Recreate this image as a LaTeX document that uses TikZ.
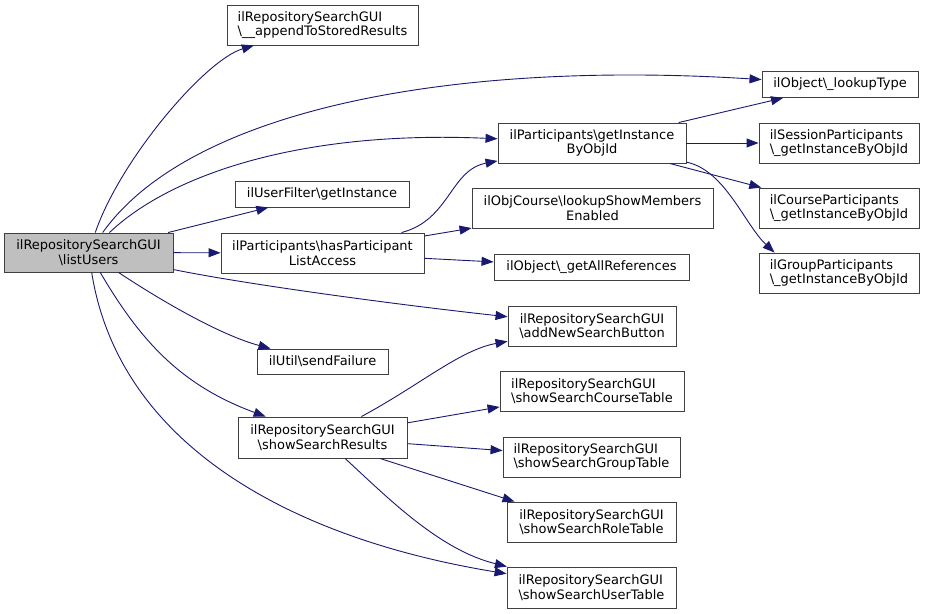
\documentclass[tikz,border=0pt]{standalone}
\usepackage{fontspec}
\setmainfont{DejaVu Sans}
\usetikzlibrary{arrows.meta}
\definecolor{edgec}{HTML}{191970}
\definecolor{boxc}{HTML}{404040}
\definecolor{curc}{HTML}{BFBFBF}
\newcommand{\bs}{\textbackslash{}}
\begin{document}
\begin{tikzpicture}[x=1pt,y=-1pt,
  fn/.style={draw=boxc, line width=0.9pt, fill=white, inner sep=0pt, font=\fontsize{13}{14.5}\selectfont, align=center},
  fnl/.style={fn, align=left},
  e/.style={draw=edgec, line width=0.9pt, -{Triangle[length=12pt,width=9pt]}}]
\useasboundingbox (0,0) rectangle (925,613);

\node[fn, fill=curc, minimum width=169pt, minimum height=39pt] (lu) at (88.5,252.5) {ilRepositorySearchGUI\\\bs listUsers};
\node[fnl, minimum width=191pt, minimum height=40pt] (app) at (322.5,25) {ilRepositorySearchGUI\\\bs\_\_appendToStoredResults};
\node[fn, minimum width=156pt, minimum height=26pt] (lt) at (840,84.5) {ilObject\bs\_lookupType};
\node[fn, minimum width=188pt, minimum height=40pt] (gi) at (592,143) {ilParticipants\bs getInstance\\ByObjId};
\node[fnl, minimum width=160pt, minimum height=40pt] (sp) at (839,143) {ilSessionParticipants\\\bs\_getInstanceByObjId};
\node[fnl, minimum width=160pt, minimum height=40pt] (cp) at (839,208) {ilCourseParticipants\\\bs\_getInstanceByObjId};
\node[fnl, minimum width=160pt, minimum height=40pt] (gp) at (839,273) {ilGroupParticipants\\\bs\_getInstanceByObjId};
\node[fn, minimum width=241pt, minimum height=40pt] (lsme) at (592.5,208) {ilObjCourse\bs lookupShowMembers\\Enabled};
\node[fn, minimum width=195pt, minimum height=26pt] (gar) at (591.5,267) {ilObject\bs\_getAllReferences};
\node[fn, minimum width=174pt, minimum height=26pt] (uf) at (322,194) {ilUserFilter\bs getInstance};
\node[fn, minimum width=203pt, minimum height=40pt] (hpla) at (322.5,253) {ilParticipants\bs hasParticipant\\ListAccess};
\node[fn, minimum width=131pt, minimum height=25pt] (sf) at (322.5,361.5) {ilUtil\bs sendFailure};
\node[fn, minimum width=168pt, minimum height=40pt] (ansb) at (592,326) {ilRepositorySearchGUI\\\bs addNewSearchButton};
\node[fn, minimum width=169pt, minimum height=41pt] (ssr) at (322.5,437.5) {ilRepositorySearchGUI\\\bs showSearchResults};
\node[fnl, minimum width=184pt, minimum height=40pt] (sct) at (592,391) {ilRepositorySearchGUI\\\bs showSearchCourseTable};
\node[fnl, minimum width=177pt, minimum height=40pt] (sgt) at (591.5,457) {ilRepositorySearchGUI\\\bs showSearchGroupTable};
\node[fnl, minimum width=169pt, minimum height=40pt] (srt) at (591.5,522) {ilRepositorySearchGUI\\\bs showSearchRoleTable};
\node[fnl, minimum width=169pt, minimum height=41pt] (sut) at (591.5,587.5) {ilRepositorySearchGUI\\\bs showSearchUserTable};

% edges from listUsers
\draw[e] (lu) .. controls (120,160) and (205,60) .. (app);
\draw[e] (lu) .. controls (190,110) and (450,60) .. (lt);
\draw[e] (lu) .. controls (170,175) and (300,130) .. (gi);
\draw[e] (lu) -- (uf);
\draw[e] (lu) -- (hpla);
\draw[e] (lu) .. controls (250,285) and (400,305) .. (ansb);
\draw[e] (lu) .. controls (160,300) and (220,335) .. ([xshift=14pt]sf.north west);
\draw[e] (lu) .. controls (140,340) and (180,385) .. (ssr);
\draw[e] (lu) .. controls (120,450) and (300,540) .. (sut);
% hasParticipantListAccess
\draw[e] (hpla) .. controls (450,220) and (450,170) .. (gi);
\draw[e] (hpla) -- (lsme);
\draw[e] (hpla) -- (gar);
% getInstanceByObjId
\draw[e] (gi) -- (lt);
\draw[e] (gi) -- (sp);
\draw[e] (gi) -- (cp);
\draw[e] (gi) .. controls (725,170) and (745,225) .. ([xshift=16pt]gp.north west);
% showSearchResults
\draw[e] (ssr) .. controls (420,385) and (460,350) .. (ansb);
\draw[e] (ssr) -- (sct);
\draw[e] (ssr) -- (sgt);
\draw[e] ([xshift=57.5pt]ssr.south) -- ([xshift=8pt]srt.north west);
\draw[e] (ssr) .. controls (390,500) and (440,550) .. (sut);
\end{tikzpicture}
\end{document}
